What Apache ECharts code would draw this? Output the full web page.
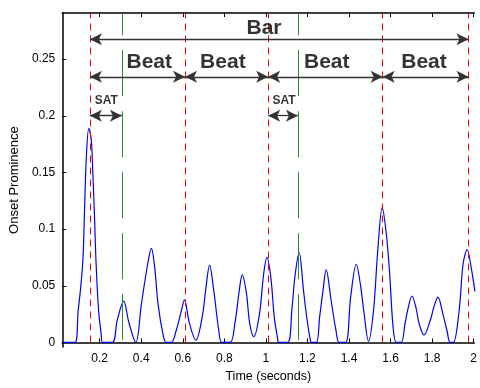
<!DOCTYPE html>
<html>
<head>
<meta charset="utf-8">
<script src="https://cdn.jsdelivr.net/npm/echarts@6/dist/echarts.min.js"></script>
<style>
  html, body { margin: 0; padding: 0; background: #fff; }
  #chart { width: 480px; height: 388px; }
</style>
</head>
<body>
<div id="chart"></div>
<script>
// onset prominence curve
const times = [0.02, 0.081, 0.0965, 0.109, 0.12, 0.128, 0.136, 0.148, 0.1595, 0.167, 0.175, 0.183, 0.195, 0.207, 0.214,
  0.261, 0.285, 0.316, 0.34, 0.374, 0.401, 0.431, 0.449, 0.465, 0.481, 0.504, 0.52,
  0.545, 0.569, 0.592, 0.608, 0.632, 0.663, 0.694, 0.71, 0.729, 0.749, 0.773, 0.788,
  0.828, 0.851, 0.872, 0.886, 0.906, 0.922, 0.942, 0.969, 0.989, 1.005, 1.024, 1.04, 1.055, 1.063,
  1.105, 1.126, 1.141, 1.16, 1.181, 1.196, 1.212, 1.22, 1.243, 1.259, 1.275, 1.29, 1.314, 1.337, 1.353,
  1.384, 1.408, 1.435, 1.455, 1.471, 1.494, 1.518, 1.538, 1.56, 1.58, 1.596, 1.612, 1.628,
  1.651, 1.67, 1.682, 1.703, 1.722, 1.737, 1.761, 1.792, 1.808, 1.828, 1.852, 1.871, 1.887,
  1.902, 1.93, 1.949, 1.969, 1.988, 2.006];
const prominence = [0, 0, 0.028, 0.049, 0.075, 0.121, 0.164, 0.189, 0.179, 0.15, 0.112, 0.069, 0.028, 0.008, 0,
  0, 0.02, 0.0365, 0.018, 0, 0.034, 0.069, 0.083, 0.066, 0.034, 0.008, 0,
  0, 0.011, 0.027, 0.0376, 0.017, 0.002, 0.023, 0.046, 0.068, 0.046, 0.011, 0,
  0, 0.017, 0.046, 0.0596, 0.044, 0.017, 0.005, 0.025, 0.06, 0.075, 0.057, 0.023, 0.005, 0,
  0, 0.031, 0.06, 0.079, 0.046, 0.023, 0.004, 0, 0, 0.023, 0.046, 0.064, 0.037, 0.011, 0,
  0, 0.04, 0.069, 0.051, 0.028, 0.001, 0.028, 0.08, 0.119, 0.095, 0.06, 0.014, 0,
  0, 0.017, 0.028, 0.041, 0.031, 0.017, 0.0066, 0.02, 0.031, 0.04, 0.025, 0.011, 0,
  0, 0.028, 0.069, 0.082, 0.066, 0.045];

const xTicks = [0.2, 0.4, 0.6, 0.8, 1, 1.2, 1.4, 1.6, 1.8, 2];
const yTicks = [0, 0.05, 0.1, 0.15, 0.2, 0.25];

// annotation markers
const beatTimes = [0.153, 0.611, 1.011, 1.562, 1.975];   // red dashed
const satTimes = [0.307, 1.154];                          // green dashed
const satStarts = [0.153, 1.011];
const barLevel = 0.2676, beatLevel = 0.2344, satLevel = 0.2001;

const bigLabels = ['Bar', 'Beat', 'Beat', 'Beat', 'Beat'];
const bigLabelX = [0.991, 0.4386, 0.793, 1.293, 1.761];
const bigLabelY = [0.2775, 0.2475, 0.2475, 0.2475, 0.2475];
const satLabelX = [0.232, 1.087];
const satLabelY = 0.2135;

const Y_MIN = -0.0041, Y_MAX = 0.2907;
const FONT = 'Liberation Sans, Arial, sans-serif';

const chart = echarts.init(document.getElementById('chart'));

const vLine = (x, y0) => [{ coord: [x, y0] }, { coord: [x, Y_MAX] }];
const hArrow = (a, b, y) => [{ coord: [a, y] }, { coord: [b, y] }];

const arrows = [hArrow(beatTimes[0], beatTimes[4], barLevel)];
for (let i = 0; i < beatTimes.length - 1; i++) arrows.push(hArrow(beatTimes[i], beatTimes[i + 1], beatLevel));
satStarts.forEach((s, i) => arrows.push(hArrow(s, satTimes[i], satLevel)));

const textLabel = size => ({
  show: true, position: 'inside', formatter: p => p.value[2], color: '#000',
  fontSize: size, fontWeight: 'bold', fontFamily: FONT,
  textBorderWidth: 0, textBorderColor: 'transparent', textShadowBlur: 0
});

chart.setOption({
  animation: false,
  grid: { left: 60, right: 0, top: 13, bottom: 34 },
  xAxis: [{
    type: 'value', min: 0.02, max: 2.003, position: 'bottom',
    axisLine: { lineStyle: { color: '#000', width: 1.5 } },
    axisTick: { inside: true, length: 4, customValues: xTicks, lineStyle: { color: '#000' } },
    axisLabel: { customValues: xTicks, color: '#000', fontSize: 12, fontFamily: FONT, margin: 6,
      formatter: v => String(+v.toFixed(2)) },
    splitLine: { show: false },
    name: 'Time (seconds)', nameLocation: 'middle', nameGap: 22,
    nameTextStyle: { color: '#000', fontSize: 12.5, fontFamily: FONT }
  }, {
    type: 'value', min: 0.02, max: 2.003, position: 'top',
    axisLine: { lineStyle: { color: '#000', width: 1.5 } },
    axisTick: { inside: true, length: 4, customValues: xTicks, lineStyle: { color: '#000' } },
    axisLabel: { show: false },
    splitLine: { show: false }
  }],
  yAxis: {
    type: 'value', min: Y_MIN, max: Y_MAX,
    axisLine: { show: true, lineStyle: { color: '#000', width: 1.5 } },
    axisTick: { show: true, inside: true, length: 4, customValues: yTicks, lineStyle: { color: '#000' } },
    axisLabel: { customValues: yTicks, color: '#000', fontSize: 12, fontFamily: FONT, margin: 7,
      formatter: v => String(+v.toFixed(2)) },
    splitLine: { show: false },
    name: 'Onset Prominence', nameLocation: 'middle', nameGap: 37,
    nameTextStyle: { color: '#000', fontSize: 13, fontFamily: FONT }
  },
  series: [{
    type: 'line',
    data: times.map((t, i) => [t, prominence[i]]),
    showSymbol: false,
    smooth: 0.35,
    lineStyle: { color: '#0000ff', width: 1.2 },
    silent: true,
    z: 2
  }, {
    type: 'line', data: [], silent: true,
    markLine: {
      silent: true, symbol: 'none', label: { show: false },
      lineStyle: { color: '#ff0000', width: 1, type: [7, 5] },
      data: beatTimes.map(x => vLine(x, 0))
    },
    z: 3
  }, {
    type: 'line', data: [], silent: true,
    markLine: {
      silent: true, symbol: 'none', label: { show: false },
      lineStyle: { color: '#2a8c2a', width: 1, type: [46, 15] },
      data: satTimes.map(x => vLine(x, 0.002))
    },
    z: 3
  }, {
    type: 'line', data: [], silent: true,
    markLine: {
      silent: true, symbol: ['arrow', 'arrow'], symbolSize: [9, 12], label: { show: false },
      lineStyle: { color: '#333', width: 1.3, type: 'solid' },
      itemStyle: { color: '#000' },
      data: arrows
    },
    z: 4
  }, {
    type: 'scatter', symbolSize: 0, silent: true, z: 5,
    itemStyle: { color: 'transparent' },
    data: bigLabels.map((s, i) => [bigLabelX[i], bigLabelY[i], s]),
    label: textLabel(21)
  }, {
    type: 'scatter', symbolSize: 0, silent: true, z: 5,
    itemStyle: { color: 'transparent' },
    data: satLabelX.map(x => [x, satLabelY, 'SAT']),
    label: textLabel(12)
  }]
});
</script>
</body>
</html>
